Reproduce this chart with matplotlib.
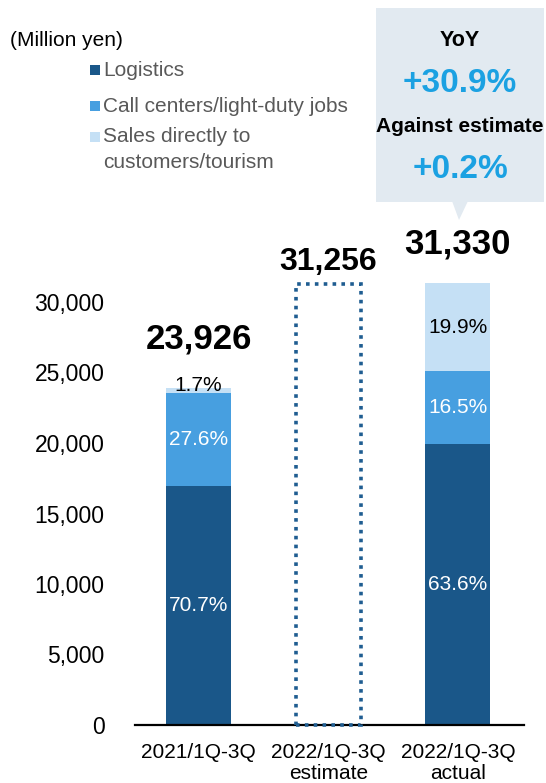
import matplotlib
matplotlib.use("Agg")
import matplotlib.pyplot as plt
from matplotlib.patches import Rectangle, Polygon

plt.rcParams["font.family"] = ["Liberation Sans", "DejaVu Sans"]

# Data
categories = ["2021/1Q-3Q", "2022/1Q-3Q\nestimate", "2022/1Q-3Q\nactual"]
totals = [23926, 31256, 31330]
series_names = ["Logistics", "Call centers/light-duty jobs",
                "Sales directly to\ncustomers/tourism"]
# share of each segment (%) for the actual bars; the estimate bar is an outline only
share_2021 = [70.7, 27.6, 1.7]
share_2022 = [63.6, 16.5, 19.9]
yticks = [0, 5000, 10000, 15000, 20000, 25000, 30000]
yoy_text = "+30.9%"
vs_estimate_text = "+0.2%"

colors = ["#1a5789", "#479fe0", "#c5e0f5"]
label_colors = ["white", "white", "black"]
outline_color = "#1f5d91"
callout_bg = "#e2eaf1"
accent = "#1ba1e2"

W, H = 546, 783
fig = plt.figure(figsize=(W / 100, H / 100), dpi=100)

# axes placed in pixel terms: x 135..524, zero line at y=725 (from top)
ymax = 34000
px_per_unit = 423 / 30000
ax_h = ymax * px_per_unit
ax = fig.add_axes([135 / W, (H - 725) / H, (524 - 135) / W, ax_h / H])
ax.set_xlim(-0.49, 2.51)
ax.set_ylim(0, ymax)

bar_w = 0.5
stacked = {0: share_2021, 2: share_2022}
for xi, shares in stacked.items():
    bottom = 0.0
    for k, s in enumerate(shares):
        h = totals[xi] * s / 100.0
        ax.bar(xi, h, bottom=bottom, width=bar_w, color=colors[k],
               edgecolor="none", zorder=2)
        bottom += h

# estimate outline, drawn over the baseline
est = ax.bar(1, totals[1], width=bar_w, facecolor="none", edgecolor=outline_color,
             linewidth=2.6, linestyle=(0, (1, 1.45)), zorder=4)
for p in est:
    p.set_clip_on(False)
    p.set_capstyle("butt")
    p.set_joinstyle("miter")

# segment percentage labels
for xi, shares in stacked.items():
    bottom = 0.0
    for k, s in enumerate(shares):
        h = totals[xi] * s / 100.0
        yc = bottom + h / 2
        if xi == 0 and k == 2:
            yc = bottom + h + 150
        ax.text(xi, yc, f"{s:.1f}%", ha="center", va="center", fontsize=15,
                color=label_colors[k], zorder=3)
        bottom += h

# totals above bars
total_offsets = [49, 22, 39]
total_sizes = [25, 23, 25]
for xi, (t, off, fs) in enumerate(zip(totals, total_offsets, total_sizes)):
    ax.annotate(f"{t:,}", xy=(xi, t), xytext=(0, off * 0.72),
                textcoords="offset points", ha="center", va="center",
                fontsize=fs, fontweight="bold", color="black",
                annotation_clip=False)

ax.set_yticks(yticks)
ax.set_yticklabels([f"{v:,}" for v in yticks], fontsize=16.5)
ax.tick_params(axis="y", length=0, pad=22)
ax.set_xticks(range(len(categories)))
ax.set_xticklabels(categories, fontsize=15, linespacing=1.12)
ax.tick_params(axis="x", length=0, pad=13)
for side in ["top", "right", "left"]:
    ax.spines[side].set_visible(False)
ax.spines["bottom"].set_linewidth(1.6)
ax.spines["bottom"].set_color("black")
ax.spines["bottom"].set_zorder(3)


def fx(px):
    return px / W


def fy(py):
    return 1 - py / H


# unit label and legend
fig.text(fx(10), fy(40), "(Million yen)", fontsize=15, ha="left", va="center")
legend_rows = [70, 106, 137]
line_gap = 25
for name, c, py in zip(series_names, colors, legend_rows):
    fig.add_artist(Rectangle((fx(90), fy(py + 5)), 10 / W, 10 / H,
                             transform=fig.transFigure, facecolor=c,
                             edgecolor="none"))
    for j, line in enumerate(name.split("\n")):
        fig.text(fx(103), fy(py + j * line_gap), line, fontsize=15,
                 color="#595959", ha="left", va="center")

# callout box
fig.add_artist(Rectangle((fx(376), fy(202)), (544 - 376) / W, (202 - 8) / H,
                         transform=fig.transFigure, facecolor=callout_bg,
                         edgecolor="none"))
fig.add_artist(Polygon([(fx(452), fy(201)), (fx(468), fy(201)), (fx(459), fy(220))],
                       closed=True, transform=fig.transFigure,
                       facecolor=callout_bg, edgecolor="none"))
cx = fx(460)
fig.text(cx, fy(40), "YoY", fontsize=15.5, fontweight="bold", ha="center", va="center")
fig.text(cx, fy(83), yoy_text, fontsize=24, fontweight="bold", color=accent,
         ha="center", va="center")
fig.text(cx, fy(127), "Against estimate", fontsize=15, fontweight="bold",
         ha="center", va="center")
fig.text(cx, fy(170), vs_estimate_text, fontsize=24, fontweight="bold",
         color=accent, ha="center", va="center")

fig.savefig("out.png", dpi=100)
